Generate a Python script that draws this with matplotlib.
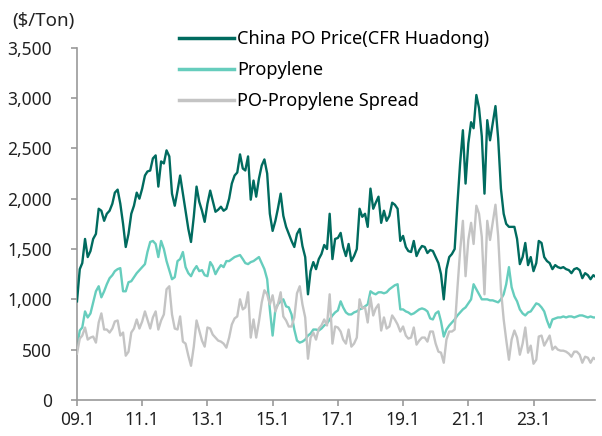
import matplotlib
matplotlib.use("Agg")
import matplotlib.pyplot as plt
import numpy as np
import pandas as pd

plt.rcParams['font.family'] = ['Noto Sans', 'DejaVu Sans']

# Monthly observations, Jan 2009 - Dec 2024 ($/ton)
dates = pd.date_range("2009-01-01", periods=192, freq="MS")

po_price = [
    980, 1300, 1360, 1600, 1420, 1480, 1600, 1650, 1900, 1880, 1780, 1850,
    1880, 1950, 2060, 2090, 1950, 1750, 1520, 1650, 1850, 1930, 2060, 2000,
    2100, 2230, 2270, 2280, 2400, 2430, 2120, 2370, 2350, 2480, 2420, 2050,
    1930, 2080, 2230, 2050, 1880, 1700, 1570, 1820, 2120, 1970, 1880, 1770,
    1950, 2080, 1980, 1870, 1890, 1920, 1880, 1900, 2000, 2150, 2230, 2260,
    2440, 2300, 2280, 2420, 1990, 2180, 2020, 2200, 2330, 2390, 2250, 1850,
    1680, 1780, 1900, 2050, 1830, 1720, 1650, 1580, 1520, 1650, 1700, 1530,
    1420, 1050, 1280, 1370, 1300, 1400, 1450, 1540, 1500, 1850, 1400, 1600,
    1610, 1660, 1520, 1430, 1550, 1380, 1430, 1500, 1900, 1820, 1850, 1720,
    2100, 1900, 1960, 2020, 1760, 1880, 1780, 1830, 1960, 1940, 1900, 1580,
    1630, 1520, 1480, 1470, 1580, 1430, 1490, 1530, 1520, 1460, 1490, 1480,
    1420, 1360, 1250, 1000, 1300, 1420, 1450, 1500, 1950, 2350, 2680, 2150,
    2550, 2760, 2700, 3030, 2900, 2620, 2050, 2780, 2580, 2750, 2920, 2600,
    2100, 1850, 1750, 1720, 1720, 1720, 1600, 1350, 1420, 1560, 1340, 1420,
    1280, 1360, 1580, 1560, 1420, 1380, 1360, 1300, 1340, 1320, 1310, 1320,
    1300, 1290, 1260, 1300, 1310, 1290, 1210, 1260, 1240, 1200, 1240, 1220,
]

propylene = [
    520, 690, 720, 880, 820, 860, 970, 1080, 1130, 1020, 1080, 1150,
    1210, 1240, 1280, 1300, 1310, 1080, 1080, 1170, 1180, 1220, 1260, 1290,
    1320, 1350, 1470, 1570, 1580, 1550, 1420, 1580, 1500, 1380, 1290, 1200,
    1220, 1380, 1400, 1470, 1320, 1260, 1230, 1290, 1330, 1280, 1290, 1240,
    1230, 1370, 1330, 1250, 1300, 1340, 1320, 1380, 1380, 1400, 1420, 1430,
    1440, 1400, 1360, 1350, 1370, 1380, 1400, 1420, 1360, 1300, 1200, 900,
    640, 900, 950, 980, 1000, 930, 920, 850, 700, 590, 570, 580,
    600, 640, 660, 700, 700, 690, 710, 740, 760, 800, 840, 870,
    890, 980, 920, 870, 850, 850, 870, 880, 900, 910, 930, 950,
    1080, 1060, 1050, 1070, 1070, 1060, 1070, 1100, 1120, 1140, 1150, 900,
    900, 880, 870, 850, 860, 880, 900, 910, 900, 880, 810, 800,
    860, 880, 780, 630, 700, 740, 770, 800, 840, 870, 900, 920,
    960, 1000, 1150, 1100, 1050, 1000, 1000, 1000, 990, 990, 980, 970,
    1000, 1050, 1150, 1320, 1120, 1030, 980, 900, 860, 840, 870, 880,
    920, 960, 950, 920, 880, 790, 720, 800, 810, 820, 820, 830,
    820, 830, 830, 820, 830, 840, 840, 830, 820, 830, 820, 820,
]

# Spread is the PO price less the propylene feedstock price
spread = [p - q for p, q in zip(po_price, propylene)]

series_labels = ["China PO Price(CFR Huadong)", "Propylene", "PO-Propylene Spread"]
colors = ["#006B5F", "#66CDBD", "#C4C4C4"]

fig = plt.figure(figsize=(6.02, 4.36), dpi=100)
ax = fig.add_axes([0.1279, 0.0826, 0.8605, 0.808])

for vals, lab, col, z in zip([po_price, propylene, spread], series_labels, colors, [3, 2, 4]):
    ax.plot(dates, vals, color=col, lw=1.7, label=lab, zorder=z, solid_joinstyle="round")

ax.set_ylim(0, 3500)
ax.set_yticks(np.arange(0, 3501, 500))
ax.yaxis.set_major_formatter(matplotlib.ticker.FuncFormatter(lambda v, p: f"{int(v):,}"))

ax.set_xlim(pd.Timestamp("2009-01-01"), pd.Timestamp("2024-11-20"))
xt = pd.date_range("2009-01-01", "2023-01-01", freq="24MS")
ax.set_xticks(xt)
ax.set_xticklabels([f"{d.year % 100:02d}.1" for d in xt])

for s in ["top", "right"]:
    ax.spines[s].set_visible(False)
for s in ["left", "bottom"]:
    ax.spines[s].set_color("#999999")
    ax.spines[s].set_linewidth(1.2)
ax.tick_params(axis="both", direction="out", length=4, width=1.2, color="#999999",
               labelsize=12.5, labelcolor="#222222")
ax.tick_params(axis="y", pad=14)
ax.tick_params(axis="x", pad=4)

fig.text(0.02, 0.952, "($/Ton)", fontsize=13.5, color="#222222", va="center", ha="left")

leg = ax.legend(loc="upper left", bbox_to_anchor=(0.165, 1.095), frameon=False,
                fontsize=13, handlelength=3.05, handletextpad=0.2, labelspacing=0.72)
for h in leg.get_lines():
    h.set_linewidth(2.5)

fig.savefig("out.png", dpi=100)
